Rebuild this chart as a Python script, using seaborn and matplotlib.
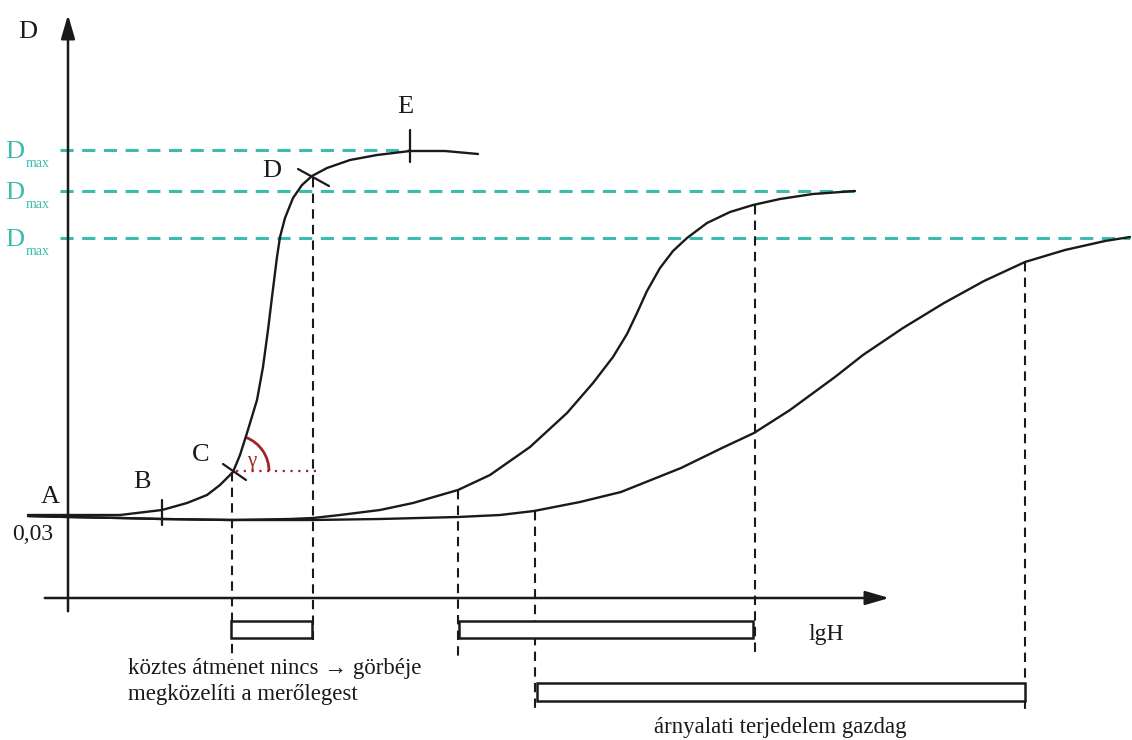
import pandas as pd
import matplotlib.pyplot as plt
import matplotlib.patches as mpatches
import seaborn as sns

# Diagram is drawn in a pixel-like coordinate system (x right, y down)
curve1_x = [28, 68, 120, 162, 187, 207, 220, 233, 240, 247, 257, 263, 268, 272, 277, 280, 285, 293, 302, 312, 327, 350, 377, 410, 445, 478]
curve1_y = [515, 515, 515, 510, 503, 495, 485, 472, 455, 433, 400, 367, 330, 297, 257, 237, 218, 198, 185, 176, 168, 160, 155, 151, 151, 154]

curve2_x = [28, 68, 120, 162, 232, 290, 313, 340, 380, 413, 458, 490, 530, 567, 593, 613, 627, 637, 647, 660, 673, 687, 707, 730, 753, 780, 813, 855]
curve2_y = [516, 517, 518, 519, 520, 519, 518, 515, 510, 503, 490, 475, 447, 413, 383, 357, 334, 313, 291, 268, 251, 238, 223, 212, 205, 199, 194, 191]

curve3_x = [28, 68, 120, 162, 232, 313, 380, 458, 500, 534, 580, 621, 681, 722, 754, 790, 835, 863, 903, 944, 984, 1025, 1065, 1105, 1130]
curve3_y = [516, 517, 518, 519, 520, 520, 519, 517, 515, 511, 502, 492, 468, 448, 433, 410, 377, 355, 328, 303, 281, 262, 250, 241, 237]

dmax_levels = [150, 191, 238]
dmax_ends = [410, 855, 1130]

drop_x = [232, 313, 458, 535, 755, 1025]
drop_top = [472, 178, 490, 511, 205, 262]
drop_bottom = [660, 640, 657, 710, 657, 710]

range_left = [231, 459, 537]
range_right = [312, 753, 1025]
range_top = [621, 621, 683]
range_height = [17, 17, 18]

point_names = ["A", "B", "C", "D", "E"]
point_label_x = [41, 133, 192, 262, 397]
point_label_y = [503, 488, 461, 177, 113]

teal = "#3bbcae"
red = "#a3232a"
ink = "#1a1a1a"

sns.set_theme(style="white")
plt.rcParams['font.family'] = ['Liberation Serif', 'DejaVu Serif']

fig = plt.figure(figsize=(11.32, 7.4), dpi=100)
ax = fig.add_axes([0, 0, 1, 1])

# Dmax guide lines
for lvl, end in zip(dmax_levels, dmax_ends):
    ax.plot([60, end], [lvl, lvl], color=teal, lw=2.2, dashes=(4.3, 2.8), zorder=1)
    ax.text(5, lvl + 8, "D", color=teal, fontsize=19, va='baseline', ha='left')
    ax.text(26, lvl + 17, "max", color=teal, fontsize=10, va='baseline', ha='left')

# curves
curves = pd.concat([
    pd.DataFrame({'x': curve1_x, 'y': curve1_y, 'curve': 'c1'}),
    pd.DataFrame({'x': curve2_x, 'y': curve2_y, 'curve': 'c2'}),
    pd.DataFrame({'x': curve3_x, 'y': curve3_y, 'curve': 'c3'}),
])
for name, grp in curves.groupby('curve'):
    sns.lineplot(data=grp, x='x', y='y', ax=ax, color=ink, lw=1.7,
                 sort=False, estimator=None, legend=False, zorder=3,
                 solid_joinstyle='round', solid_capstyle='round')
ax.set_xlim(0, 1132)
ax.set_ylim(740, 0)
ax.axis('off')

# axes with arrows
ax.annotate("", xy=(68, 12), xytext=(68, 614),
            arrowprops=dict(arrowstyle='-|>,head_width=0.35,head_length=1.2', color=ink, lw=1.8))
ax.annotate("", xy=(892, 598), xytext=(42, 598),
            arrowprops=dict(arrowstyle='-|>,head_width=0.35,head_length=1.2', color=ink, lw=1.8))
ax.text(18, 38, "D", fontsize=19, color=ink)
ax.text(808, 640, "lgH", fontsize=17, color=ink)
ax.text(12, 524, "0,03", fontsize=17, color=ink, va='top')

# vertical drop lines
for x, t, b in zip(drop_x, drop_top, drop_bottom):
    ax.plot([x, x], [t, b], color=ink, lw=1.5, dashes=(4.5, 3), zorder=2)

# range boxes
for l, r, t, h in zip(range_left, range_right, range_top, range_height):
    ax.add_patch(mpatches.Rectangle((l, t), r - l, h, fill=True, facecolor='white',
                                    edgecolor=ink, lw=1.8, zorder=4))

# tick marks on curve
ax.plot([162, 162], [500, 525], color=ink, lw=1.6)
ax.plot([223, 246], [464, 480], color=ink, lw=1.6)
ax.plot([298, 329], [169, 186], color=ink, lw=1.6)
ax.plot([410, 410], [130, 162], color=ink, lw=1.6)

for n, x, y in zip(point_names, point_label_x, point_label_y):
    ax.text(x, y, n, fontsize=19, color=ink, va='baseline')

# gamma angle
ax.plot([236, 318], [471, 471], color=red, lw=1.6, ls=(0, (1, 2.5)))
ax.add_patch(mpatches.Arc((233, 471), 72, 72, theta1=-68, theta2=0, color=red, lw=2))
ax.text(247, 466, "γ", fontsize=15, color=red, va='baseline')

ax.text(128, 674, "köztes átmenet nincs → görbéje", fontsize=16.5, color=ink)
ax.text(128, 700, "megközelíti a merőlegest", fontsize=16.5, color=ink)
ax.text(780, 733, "árnyalati terjedelem gazdag", fontsize=16.5, color=ink, ha='center')

fig.savefig("out.png", dpi=100)
